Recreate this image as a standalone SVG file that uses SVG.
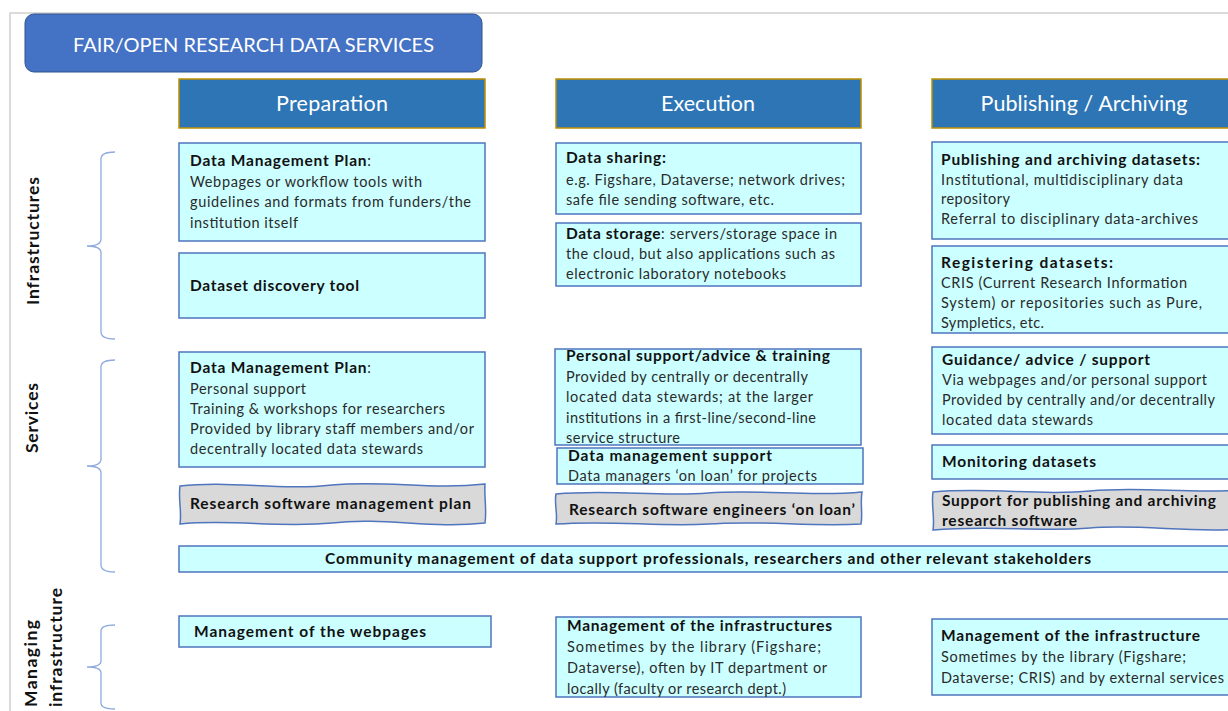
<svg xmlns="http://www.w3.org/2000/svg" width="1228" height="711" viewBox="0 0 1228 711">
<style>
.t{font-family:Lato,"Liberation Sans",sans-serif;font-size:14.5px;fill:#2a2a2a}
.b{font-weight:bold;fill:#111;font-size:15.5px}
.hdr{font-family:Lato,"Liberation Sans",sans-serif;font-size:21.5px;fill:#fff;text-anchor:middle}
.ttl{font-family:Lato,"Liberation Sans",sans-serif;font-size:20px;fill:#fff;text-anchor:middle}
.side{font-family:Lato,"Liberation Sans",sans-serif;font-size:17.5px;font-weight:bold;fill:#111}
.box{fill:#CCFFFF;stroke:#4F75BD;stroke-width:1.5}
.wave{fill:#D9D9D9;stroke:#4F75BD;stroke-width:1.5}
.head{fill:#2E75B6;stroke:#BF9000;stroke-width:1.5}
.brace{fill:none;stroke:#8FAADC;stroke-width:1.3}
</style>
<rect width="1228" height="711" fill="#fff"/>
<g id="frame" stroke="#D0D0D0" stroke-width="1.5" fill="none">
<path d="M10,711 V13 H1228"/>
</g>
<g id="title">
<rect x="25" y="14" width="457" height="58" rx="9" fill="#4472C4" stroke="#2F528F" stroke-width="1"/>
<text class="ttl" x="253.5" y="52" textLength="361">FAIR/OPEN RESEARCH DATA SERVICES</text>
</g>
<g id="hdr-preparation">
<rect class="head" x="179" y="79" width="306" height="49"/>
<text class="hdr" x="332" y="111" textLength="112">Preparation</text>
</g>
<g id="hdr-execution">
<rect class="head" x="556" y="79" width="305" height="49"/>
<text class="hdr" x="708" y="111" textLength="94">Execution</text>
</g>
<g id="hdr-publishing">
<rect class="head" x="932" y="79" width="310" height="49"/>
<text class="hdr" x="1084" y="111" textLength="207">Publishing / Archiving</text>
</g>
<g id="side-labels">
<text class="side" transform="translate(38.5,241) rotate(-90)" text-anchor="middle" textLength="128">Infrastructures</text>
<text class="side" transform="translate(38,418) rotate(-90)" text-anchor="middle" textLength="70">Services</text>
<text class="side" transform="translate(37,707) rotate(-90)" textLength="87">Managing</text>
<text class="side" transform="translate(62,707) rotate(-90)" textLength="119">infrastructure</text>
</g>
<g id="connectors">
<path class="brace" d="M115,152 Q101,152 101,159 V239 Q101,246 87,246 Q101,246 101,253 V332 Q101,339 115,339"/>
<path class="brace" d="M115,360 Q101,360 101,367 V459 Q101,466 87,466 Q101,466 101,473 V565 Q101,572 115,572"/>
<path class="brace" d="M115,625 Q101,625 101,631 V661 Q101,667 87,667 Q101,667 101,673 V703 Q101,709 115,709"/>
</g>
<g id="prep-dmp">
<rect class="box" x="179" y="143" width="306" height="98"/>
<text class="t" x="190" y="166" textLength="181"><tspan class="b">Data Management Plan</tspan>:</text>
<text class="t" x="190" y="187" textLength="232">Webpages or workflow tools with</text>
<text class="t" x="190" y="207" textLength="281">guidelines and formats from funders/the</text>
<text class="t" x="190" y="228" textLength="108">institution itself</text>
</g>
<g id="prep-discovery">
<rect class="box" x="179" y="253" width="306" height="65"/>
<text class="t b" x="190" y="291" textLength="169">Dataset discovery tool</text>
</g>
<g id="exec-sharing">
<rect class="box" x="556" y="143" width="305" height="71"/>
<text class="t b" x="566" y="163" textLength="100">Data sharing:</text>
<text class="t" x="566" y="185" textLength="279">e.g. Figshare, Dataverse; network drives;</text>
<text class="t" x="566" y="205" textLength="208">safe file sending software, etc.</text>
</g>
<g id="exec-storage">
<rect class="box" x="556" y="223" width="305" height="63"/>
<text class="t" x="566" y="239" textLength="271"><tspan class="b">Data storage</tspan>: servers/storage space in</text>
<text class="t" x="566" y="259" textLength="269">the cloud, but also applications such as</text>
<text class="t" x="566" y="279" textLength="220">electronic laboratory notebooks</text>
</g>
<g id="pub-archiving">
<rect class="box" x="932" y="142" width="310" height="97"/>
<text class="t b" x="941" y="165" textLength="259">Publishing and archiving datasets:</text>
<text class="t" x="941" y="185" textLength="242">Institutional, multidisciplinary data</text>
<text class="t" x="941" y="204" textLength="69">repository</text>
<text class="t" x="941" y="224" textLength="257">Referral to disciplinary data-archives</text>
</g>
<g id="pub-registering">
<rect class="box" x="932" y="246" width="310" height="87"/>
<text class="t b" x="941" y="268" textLength="172">Registering datasets:</text>
<text class="t" x="941" y="288" textLength="246">CRIS (Current Research Information</text>
<text class="t" x="941" y="308" textLength="261">System) or repositories such as Pure,</text>
<text class="t" x="941" y="328" textLength="103">Sympletics, etc.</text>
</g>
<g id="prep-dmp-support">
<rect class="box" x="179" y="352" width="306" height="115"/>
<text class="t" x="190" y="373" textLength="181"><tspan class="b">Data Management Plan</tspan>:</text>
<text class="t" x="190" y="394" textLength="116">Personal support</text>
<text class="t" x="190" y="414" textLength="255">Training &amp; workshops for researchers</text>
<text class="t" x="190" y="434" textLength="284">Provided by library staff members and/or</text>
<text class="t" x="190" y="454" textLength="233">decentrally located data stewards</text>
</g>
<g id="prep-rsmp">
<path class="wave" d="M180,486 C230,480 280,491 332,485 C385,480 430,490 485,484 C484,497 487,510 485,523 C430,529 385,517 332,523 C280,528 230,519 180,524 C182,511 178,498 180,486 Z"/>
<text class="t b" x="190" y="509" textLength="281">Research software management plan</text>
</g>
<g id="exec-support">
<rect class="box" x="555" y="349" width="306" height="96"/>
<text class="t b" x="566" y="361" textLength="264">Personal support/advice &amp; training</text>
<text class="t" x="566" y="382" textLength="242">Provided by centrally or decentrally</text>
<text class="t" x="566" y="402" textLength="247">located data stewards; at the larger</text>
<text class="t" x="566" y="423" textLength="250">institutions in a first-line/second-line</text>
<text class="t" x="566" y="443" textLength="114">service structure</text>
</g>
<g id="exec-dm-support">
<rect class="box" x="557" y="448" width="306" height="36"/>
<text class="t b" x="568" y="461" textLength="204">Data management support</text>
<text class="t" x="568" y="481" textLength="249">Data managers ‘on loan’ for projects</text>
</g>
<g id="exec-rse">
<path class="wave" d="M556,494 C610,489 660,497 708,493 C760,489 810,497 862,492 C860,503 863,514 861,524 C810,527 760,520 708,524 C660,527 610,520 556,524 C558,514 554,504 556,494 Z"/>
<text class="t b" x="569" y="515" textLength="286">Research software engineers ‘on loan’</text>
</g>
<g id="pub-guidance">
<rect class="box" x="932" y="347" width="310" height="87"/>
<text class="t b" x="942" y="365" textLength="208">Guidance/ advice / support</text>
<text class="t" x="942" y="385" textLength="265">Via webpages and/or personal support</text>
<text class="t" x="942" y="405" textLength="273">Provided by centrally and/or decentrally</text>
<text class="t" x="942" y="425" textLength="151">located data stewards</text>
</g>
<g id="pub-monitoring">
<rect class="box" x="932" y="445" width="310" height="34"/>
<text class="t b" x="942" y="467" textLength="154">Monitoring datasets</text>
</g>
<g id="pub-software">
<path class="wave" d="M933,492 C990,487 1040,496 1090,491 C1140,486 1190,494 1242,490 L1242,529 C1190,533 1140,524 1090,528 C1040,532 990,525 933,530 C935,517 931,504 933,492 Z"/>
<text class="t b" x="942" y="506" textLength="274">Support for publishing and archiving</text>
<text class="t b" x="942" y="526" textLength="135">research software</text>
</g>
<g id="community">
<rect class="box" x="179" y="546" width="1063" height="26"/>
<text class="t b" x="708" y="564" text-anchor="middle" textLength="766">Community management of data support professionals, researchers and other relevant stakeholders</text>
</g>
<g id="prep-webpages">
<rect class="box" x="179" y="616" width="312" height="31"/>
<text class="t b" x="194" y="637" textLength="232">Management of the webpages</text>
</g>
<g id="exec-infra-mgmt">
<rect class="box" x="556" y="617" width="305" height="80"/>
<text class="t b" x="567" y="631" textLength="265">Management of the infrastructures</text>
<text class="t" x="567" y="652" textLength="254">Sometimes by the library (Figshare;</text>
<text class="t" x="567" y="673" textLength="260">Dataverse), often by IT department or</text>
<text class="t" x="567" y="694" textLength="219">locally (faculty or research dept.)</text>
</g>
<g id="pub-infra-mgmt">
<rect class="box" x="932" y="619" width="310" height="76"/>
<text class="t b" x="941" y="641" textLength="259">Management of the infrastructure</text>
<text class="t" x="941" y="662" textLength="245">Sometimes by the library (Figshare;</text>
<text class="t" x="941" y="683" textLength="283">Dataverse; CRIS) and by external services</text>
</g>
</svg>
